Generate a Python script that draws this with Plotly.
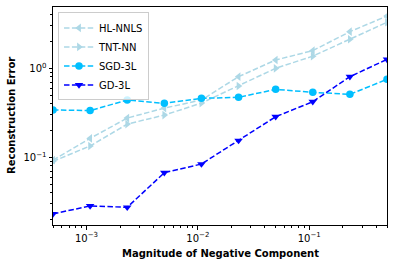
import plotly.graph_objects as go

x_vals = [5e-4, 1.077e-3, 2.321e-3, 5e-3, 1.077e-2, 2.321e-2, 5e-2, 0.1077, 0.2321, 0.5]
hl_nnls = [0.093, 0.163, 0.276, 0.357, 0.44, 0.805, 1.24, 1.58, 2.58, 3.87]
tnt_nn = [0.090, 0.134, 0.236, 0.298, 0.407, 0.632, 1.0, 1.37, 2.12, 3.29]
sgd_3l = [0.34, 0.335, 0.44, 0.404, 0.46, 0.472, 0.58, 0.537, 0.51, 0.752]
gd_3l = [0.0231, 0.0284, 0.0274, 0.0671, 0.084, 0.154, 0.286, 0.421, 0.805, 1.26]

x_tick_vals = [1e-3, 1e-2, 1e-1]
x_tick_text = ["10<sup>−3</sup>", "10<sup>−2</sup>", "10<sup>−1</sup>"]
y_tick_vals = [1e-1, 1e0]
y_tick_text = ["10<sup>−1</sup>", "10<sup>0</sup>"]
x_title = "Magnitude of Negative Component"
y_title = "Reconstruction Error"

series = [
    ("HL-NNLS", hl_nnls, "#add8e6", "triangle-left"),
    ("TNT-NN", tnt_nn, "#add8e6", "triangle-right"),
    ("SGD-3L", sgd_3l, "#00bfff", "circle"),
    ("GD-3L", gd_3l, "#0000ff", "triangle-down"),
]

fig = go.Figure()
for name, ys, color, sym in series:
    fig.add_trace(go.Scatter(
        x=x_vals, y=ys, name=name, mode="lines+markers",
        line=dict(color=color, width=1.5, dash="5.5px,2.4px"),
        marker=dict(color=color, symbol=sym, size=7.5),
        cliponaxis=True,
    ))

def minor_vals(lo, hi):
    out = []
    for e in range(lo, hi):
        for m in range(2, 10):
            out.append(m * 10 ** e)
    return out

axis_common = dict(
    type="log", showgrid=False, zeroline=False, automargin=False,
    showline=True, linecolor="black", linewidth=1, mirror=True,
    ticks="outside", ticklen=3.5, tickwidth=0.8, tickcolor="black",
    tickfont=dict(family="DejaVu Sans", size=10, color="black"),
)

fig.update_layout(
    width=394, height=266,
    margin=dict(l=53, r=7, t=7, b=41),
    plot_bgcolor="white", paper_bgcolor="white",
    font=dict(family="DejaVu Sans", size=10, color="black"),
    xaxis=dict(
        **axis_common,
        range=[-3.30103, -0.30103],
        tickvals=x_tick_vals, ticktext=x_tick_text,
        minor=dict(ticks="outside", ticklen=2, tickwidth=0.6, tickcolor="black",
                   tickvals=minor_vals(-4, 0), showgrid=False),
    ),
    yaxis=dict(
        **axis_common,
        range=[-1.761, 0.689],
        tickvals=y_tick_vals, ticktext=y_tick_text,
        minor=dict(ticks="outside", ticklen=2, tickwidth=0.6, tickcolor="black",
                   tickvals=minor_vals(-2, 1), showgrid=False),
    ),
    legend=dict(
        x=0.015, y=0.975, xanchor="left", yanchor="top",
        bgcolor="rgba(255,255,255,0.8)", bordercolor="#cccccc", borderwidth=1,
        font=dict(family="DejaVu Sans", size=10),
        itemwidth=30, tracegroupgap=0,
    ),
    annotations=[
        dict(text="<b>" + x_title + "</b>", xref="paper", yref="paper",
             x=0.5, y=0, xanchor="center", yanchor="middle", yshift=-28,
             showarrow=False, font=dict(family="DejaVu Sans", size=10)),
        dict(text="<b>" + y_title + "</b>", xref="paper", yref="paper",
             x=0, y=0.5, xanchor="center", yanchor="middle", xshift=-42,
             textangle=-90, showarrow=False,
             font=dict(family="DejaVu Sans", size=10)),
    ],
    showlegend=True,
)

fig.write_html("out.html",
               config={"displayModeBar": False},
               post_script="document.body.style.margin='0';document.body.style.padding='0';")
